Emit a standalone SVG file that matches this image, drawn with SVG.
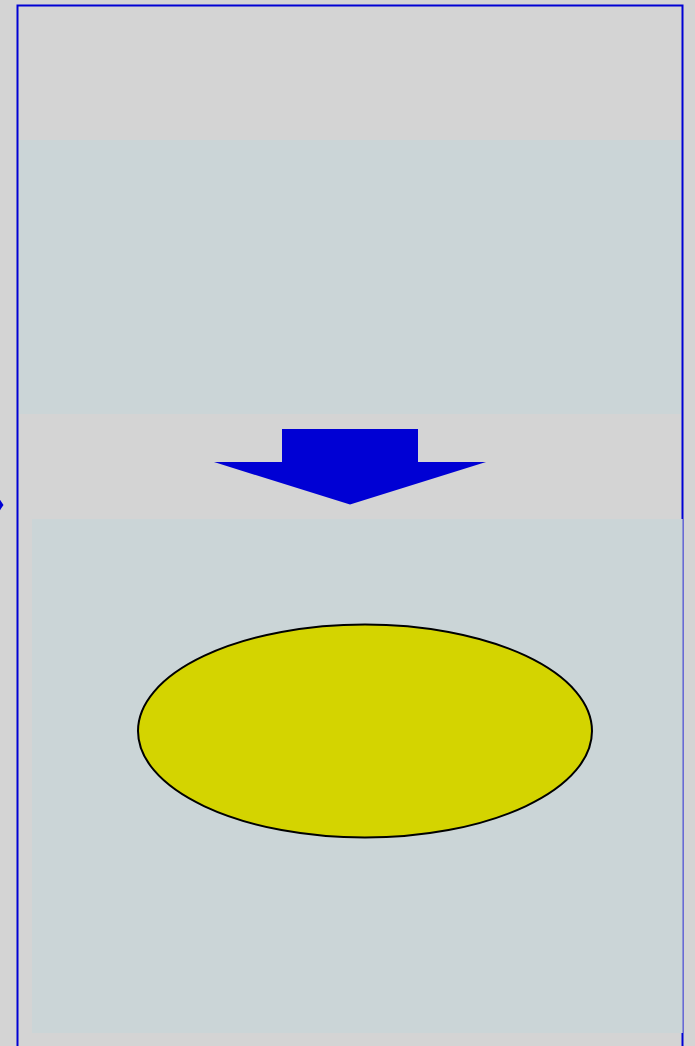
<svg xmlns="http://www.w3.org/2000/svg" width="695" height="1046" viewBox="0 0 695 1046">
<style>
.panel{fill:#cbd5d7;stroke:none}
.blue{fill:#0000d4}
</style>
<rect x="0" y="0" width="695" height="1046" fill="#d4d4d4"/>
<g id="frame">
<rect x="17.5" y="5.5" width="665" height="1060" fill="none" stroke="#0000d4" stroke-width="2"/>
</g>
<g id="panel-top">
<rect class="panel" x="19" y="140" width="662" height="274"/>
</g>
<g id="panel-bottom">
<rect class="panel" x="32" y="519" width="650.7" height="514"/>
</g>
<g id="connectors">
<polygon class="blue" points="282,429 418,429 418,462 486,462 350,504.5 214,462 282,462"/>
<polygon class="blue" points="-4,494 3.5,505 -4,516"/>
</g>
<g id="ellipse-node">
<ellipse cx="365" cy="731" rx="227" ry="106.5" fill="#d4d400" stroke="#000000" stroke-width="2"/>
</g>
</svg>
